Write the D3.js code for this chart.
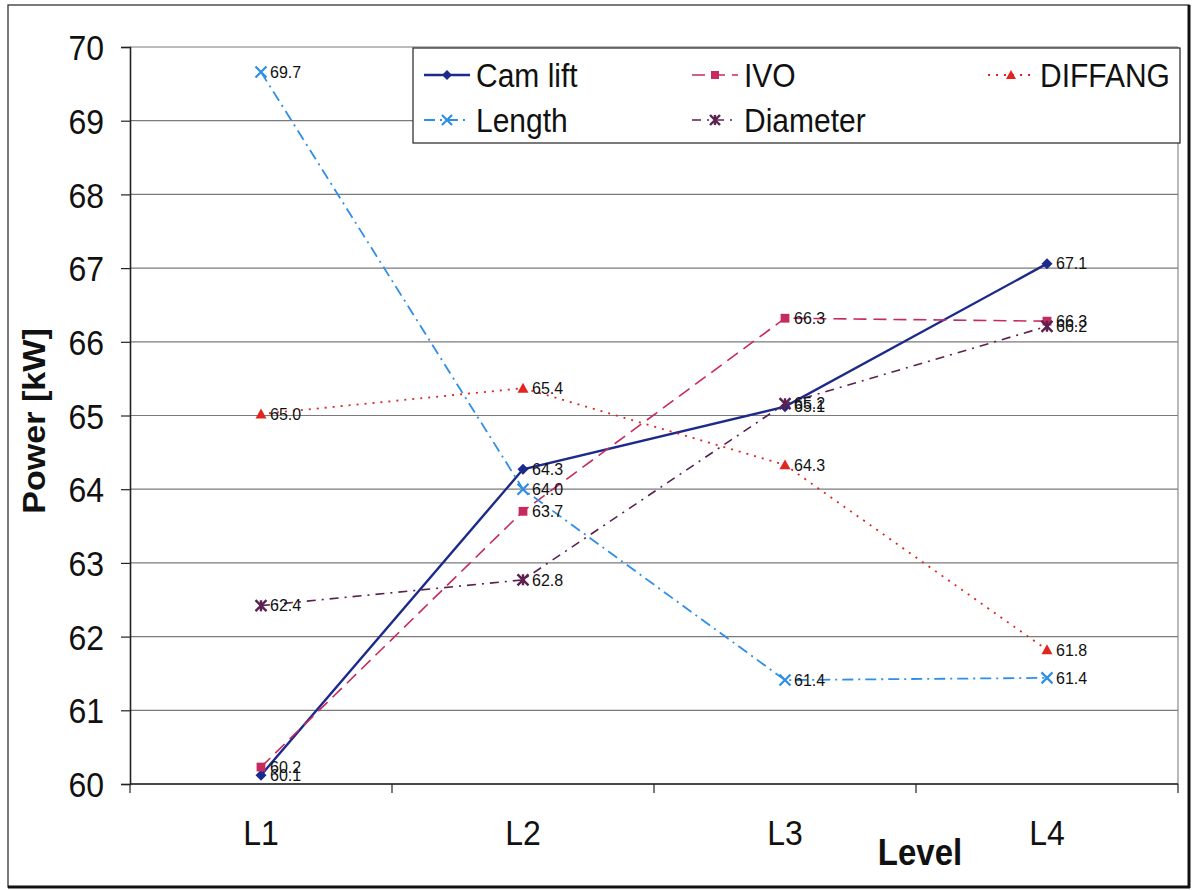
<!DOCTYPE html>
<html>
<head>
<meta charset="utf-8">
<script src="https://cdn.jsdelivr.net/npm/d3@7"></script>
<style>
  html, body { margin: 0; padding: 0; background: #fff; }
  svg { display: block; font-family: "Liberation Sans", Arial, sans-serif; }
</style>
</head>
<body>
<svg id="chart" width="1196" height="890"></svg>
<script>
// Levels along the x axis
const levels = ["L1", "L2", "L3", "L4"];
// Power [kW] per factor at each level
const camLift  = [60.12, 64.27, 65.12, 67.06];
const ivo      = [60.23, 63.70, 66.32, 66.28];
const diffang  = [65.02, 65.37, 64.33, 61.82];
const lengthKw = [69.66, 64.00, 61.41, 61.44];
const diameter = [62.42, 62.77, 65.16, 66.21];
// Y axis ticks
const yTicks = [60, 61, 62, 63, 64, 65, 66, 67, 68, 69, 70];

const series = [
  { name: "Cam lift", values: camLift,  color: "#1c2a8c", dash: null,          width: 2.4, marker: "diamond" },
  { name: "IVO",      values: ivo,      color: "#c72a5e", dash: "13,7",        width: 1.6, marker: "square" },
  { name: "DIFFANG",  values: diffang,  color: "#e0261f", dash: "2,6",         width: 1.8, marker: "triangle" },
  { name: "Length",   values: lengthKw, color: "#2f8ee6", dash: "11,5,2,5",    width: 1.8, marker: "cross" },
  { name: "Diameter", values: diameter, color: "#5b2150", dash: "9,6,2,6",     width: 1.6, marker: "star" }
];

const svg = d3.select("#chart");
const plot = { left: 130, top: 47, right: 1178, bottom: 784 };

const x = d3.scaleBand().domain(levels).range([plot.left, plot.right]).padding(0);
const y = d3.scaleLinear().domain([60, 70]).range([plot.bottom, plot.top]);
const cx = d => x(d) + x.bandwidth() / 2;

// Outer frame
svg.append("rect").attr("x", 8).attr("y", 5).attr("width", 1181).attr("height", 882)
  .attr("fill", "none").attr("stroke", "#333").attr("stroke-width", 1.3);
svg.append("line").attr("x1", 1189).attr("x2", 1189).attr("y1", 5).attr("y2", 888)
  .attr("stroke", "#111").attr("stroke-width", 3);
svg.append("line").attr("x1", 8).attr("x2", 1190).attr("y1", 887).attr("y2", 887)
  .attr("stroke", "#111").attr("stroke-width", 3);

// Horizontal gridlines
svg.append("g").selectAll("line").data(yTicks).join("line")
  .attr("x1", plot.left).attr("x2", plot.right)
  .attr("y1", d => y(d)).attr("y2", d => y(d))
  .attr("stroke", "#7a7a7a").attr("stroke-width", 1.2);

// Plot area right border
svg.append("line").attr("x1", plot.right).attr("x2", plot.right)
  .attr("y1", plot.top).attr("y2", plot.bottom)
  .attr("stroke", "#8a8a8a").attr("stroke-width", 1.2);

// Y axis
const yAxis = svg.append("g").attr("transform", `translate(${plot.left},0)`)
  .call(d3.axisLeft(y).tickValues(yTicks).tickSize(9).tickPadding(0).tickFormat(d3.format("d")));
yAxis.select(".domain").attr("stroke", "#222").attr("stroke-width", 1.6);
yAxis.selectAll(".tick line").attr("stroke", "#222").attr("stroke-width", 1.2);
yAxis.selectAll(".tick text").remove();
yAxis.selectAll(".tick").append("text")
  .attr("transform", "translate(-26,0) scale(1,1.1)")
  .attr("text-anchor", "end").attr("dy", "0.36em")
  .attr("fill", "#111").attr("font-size", 32)
  .text(d => d);

// X axis with ticks at band edges
const xAxis = svg.append("g").attr("transform", `translate(0,${plot.bottom})`);
xAxis.append("line").attr("x1", plot.left).attr("x2", plot.right)
  .attr("stroke", "#222").attr("stroke-width", 1.6);
const edges = levels.map(d => x(d)).concat([plot.right]);
xAxis.selectAll("line.edge").data(edges).join("line").attr("class", "edge")
  .attr("x1", d => d).attr("x2", d => d).attr("y1", 0).attr("y2", 9)
  .attr("stroke", "#222").attr("stroke-width", 1.2);
xAxis.selectAll("text.cat").data(levels).join("text").attr("class", "cat")
  .attr("transform", d => `translate(${cx(d)},61) scale(1,1.1)`)
  .attr("text-anchor", "middle").attr("fill", "#111").attr("font-size", 32)
  .text(d => d);

// Axis titles
svg.append("text")
  .attr("transform", "translate(45,421) rotate(-90) scale(1.1,1)")
  .attr("text-anchor", "middle").attr("font-weight", "bold").attr("font-size", 31)
  .attr("fill", "#111").text("Power [kW]");
svg.append("text")
  .attr("transform", "translate(920,865) scale(1,1.1)")
  .attr("text-anchor", "middle").attr("font-weight", "bold").attr("font-size", 33)
  .attr("fill", "#111").text("Level");

// Marker shapes
function drawMarker(g, type, color, size) {
  const s = size;
  if (type === "diamond") {
    g.append("path").attr("d", `M0,${-s}L${s},0L0,${s}L${-s},0Z`).attr("fill", color);
  } else if (type === "square") {
    g.append("rect").attr("x", -s * 0.8).attr("y", -s * 0.8).attr("width", s * 1.6).attr("height", s * 1.6).attr("fill", color);
  } else if (type === "triangle") {
    g.append("path").attr("d", `M0,${-s}L${s},${s * 0.8}L${-s},${s * 0.8}Z`).attr("fill", color);
  } else if (type === "cross") {
    g.append("path").attr("d", `M${-s},${-s}L${s},${s}M${-s},${s}L${s},${-s}`)
      .attr("stroke", color).attr("stroke-width", 2.2).attr("fill", "none");
  } else if (type === "star") {
    g.append("path").attr("d", `M${-s},${-s}L${s},${s}M${-s},${s}L${s},${-s}M0,${-s}L0,${s}`)
      .attr("stroke", color).attr("stroke-width", 2.4).attr("fill", "none");
  }
}

const line = d3.line().x((d, i) => cx(levels[i])).y(d => y(d));

// Series lines, markers, value labels
series.forEach(s => {
  const g = svg.append("g");
  g.append("path").datum(s.values).attr("d", line)
    .attr("fill", "none").attr("stroke", s.color).attr("stroke-width", s.width)
    .attr("stroke-dasharray", s.dash);
  s.values.forEach((v, i) => {
    const mg = g.append("g").attr("transform", `translate(${cx(levels[i])},${y(v)})`);
    drawMarker(mg, s.marker, s.color, 5.5);
  });
});
series.forEach(s => {
  svg.append("g").selectAll("text").data(s.values).join("text")
    .attr("x", (d, i) => cx(levels[i]) + 9)
    .attr("y", d => y(d))
    .attr("dy", "0.36em")
    .attr("font-size", 16).attr("fill", "#111")
    .text(d => d.toFixed(1));
});

// Legend
const legend = svg.append("g");
legend.append("rect").attr("x", 413).attr("y", 48).attr("width", 767).attr("height", 95)
  .attr("fill", "#fff").attr("stroke", "#333").attr("stroke-width", 1.3);
const legendPos = [
  { x: 424, y: 75 }, { x: 692, y: 75 }, { x: 988, y: 75 },
  { x: 424, y: 120 }, { x: 692, y: 120 }
];
series.forEach((s, i) => {
  const p = legendPos[i];
  const lg = legend.append("g").attr("transform", `translate(${p.x},${p.y})`);
  lg.append("line").attr("x1", 0).attr("x2", 46).attr("y1", 0).attr("y2", 0)
    .attr("stroke", s.color).attr("stroke-width", s.width)
    .attr("stroke-dasharray", s.dash);
  const mg = lg.append("g").attr("transform", "translate(23,0)");
  drawMarker(mg, s.marker, s.color, 5);
  lg.append("text").attr("transform", "translate(52,0) scale(1,1.1)")
    .attr("dy", "0.36em").attr("font-size", 30).attr("fill", "#111").text(s.name);
});
</script>
</body>
</html>
